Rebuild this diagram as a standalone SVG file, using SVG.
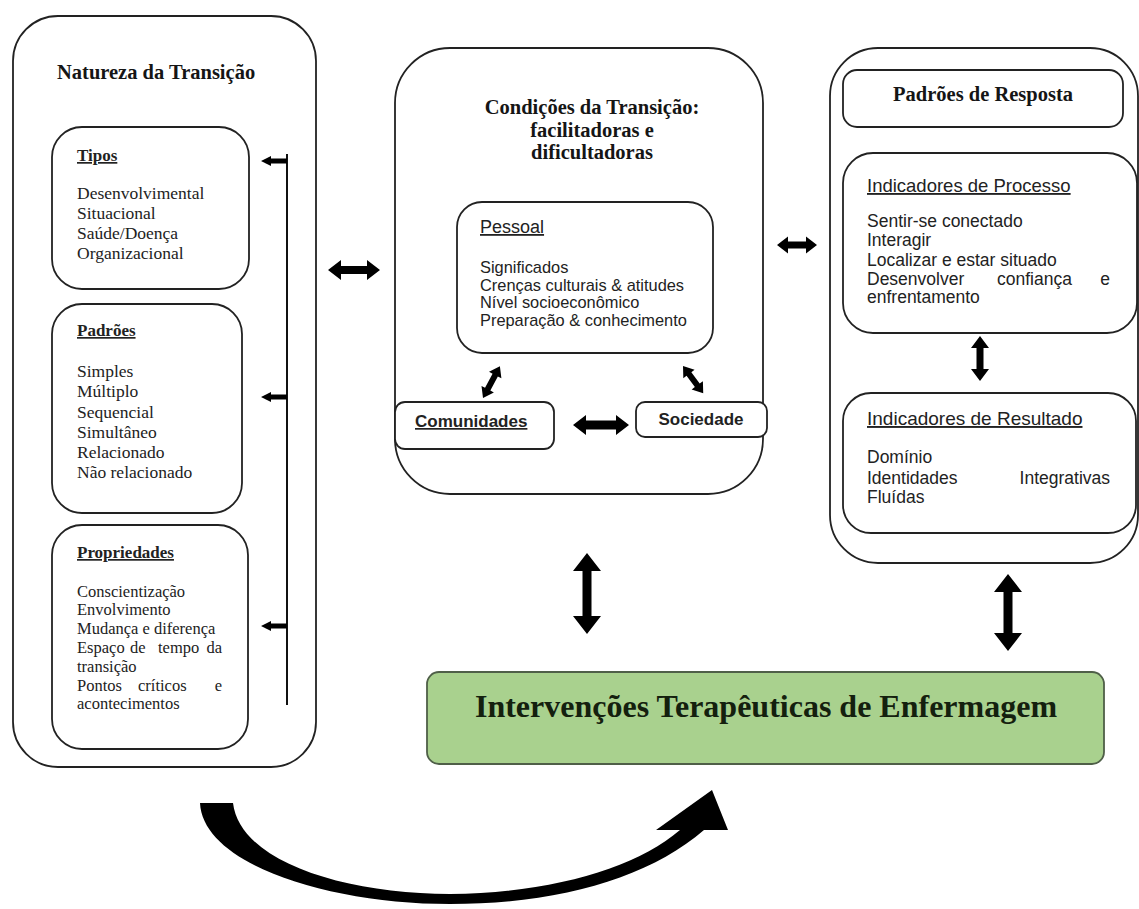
<svg xmlns="http://www.w3.org/2000/svg" width="1139" height="909" viewBox="0 0 1139 909">
<style>
.box{fill:#fff;stroke:#222;stroke-width:1.8}
.ttl{font-family:"Liberation Serif",serif;font-weight:bold;font-size:20.5px;fill:#151515}
.ser{font-family:"Liberation Serif",serif;font-size:17.5px;fill:#222}
.ser2{font-family:"Liberation Serif",serif;font-size:16.5px;fill:#222}
.serh{font-family:"Liberation Serif",serif;font-weight:bold;font-size:17px;fill:#222;text-decoration:underline}
.sans{font-family:"Liberation Sans",Arial,sans-serif;font-size:16.4px;fill:#222}
.sansr{font-family:"Liberation Sans",Arial,sans-serif;font-size:17.5px;fill:#222}
.sh{font-family:"Liberation Sans",Arial,sans-serif;font-size:18.5px;fill:#222;text-decoration:underline}
.sb{font-family:"Liberation Sans",Arial,sans-serif;font-weight:bold;font-size:17px;fill:#222}
.arr{fill:#000}
</style>
<rect width="1139" height="909" fill="#fff"/>

<g id="natureza">
<rect class="box" x="13" y="16" width="303" height="751" rx="45"/>
<text class="ttl" x="57" y="79">Natureza da Transição</text>
</g>
<g id="tipos">
<rect class="box" x="52" y="127" width="197" height="162" rx="30"/>
<text class="serh" x="77" y="161">Tipos</text>
<text class="ser" x="77" y="199">Desenvolvimental</text>
<text class="ser" x="77" y="219">Situacional</text>
<text class="ser" x="77" y="239">Saúde/Doença</text>
<text class="ser" x="77" y="259">Organizacional</text>
</g>
<g id="padroes">
<rect class="box" x="52" y="304" width="190" height="209" rx="30"/>
<text class="serh" x="77" y="336">Padrões</text>
<text class="ser" x="77" y="377">Simples</text>
<text class="ser" x="77" y="397">Múltiplo</text>
<text class="ser" x="77" y="418">Sequencial</text>
<text class="ser" x="77" y="438">Simultâneo</text>
<text class="ser" x="77" y="458">Relacionado</text>
<text class="ser" x="77" y="478">Não relacionado</text>
</g>
<g id="propriedades">
<rect class="box" x="52" y="525" width="196" height="224" rx="30"/>
<text class="serh" x="77" y="558">Propriedades</text>
<text class="ser2" x="77" y="597">Conscientização</text>
<text class="ser2" x="77" y="615">Envolvimento</text>
<text class="ser2" x="77" y="634">Mudança e diferença</text>
<text class="ser2" y="653"><tspan x="77">Espaço</tspan><tspan x="130">de</tspan><tspan x="158">tempo</tspan></text>
<text class="ser2" x="222" y="653" text-anchor="end">da</text>
<text class="ser2" x="77" y="672">transição</text>
<text class="ser2" y="691"><tspan x="77">Pontos</tspan><tspan x="138">críticos</tspan></text>
<text class="ser2" x="222" y="691" text-anchor="end">e</text>
<text class="ser2" x="77" y="709">acontecimentos</text>
</g>

<g id="condicoes">
<rect class="box" x="395" y="48" width="368" height="446" rx="55"/>
<text class="ttl" x="592" y="114" text-anchor="middle">Condições da Transição:</text>
<text class="ttl" x="592" y="137" text-anchor="middle">facilitadoras e</text>
<text class="ttl" x="592" y="159" text-anchor="middle">dificultadoras</text>
</g>
<g id="pessoal">
<rect class="box" x="457" y="202" width="256" height="151" rx="25"/>
<text class="sh" x="480" y="233" style="font-size:18px">Pessoal</text>
<text class="sans" x="480" y="273">Significados</text>
<text class="sans" x="480" y="291">Crenças culturais &amp; atitudes</text>
<text class="sans" x="480" y="308">Nível socioeconômico</text>
<text class="sans" x="480" y="326">Preparação &amp; conhecimento</text>
</g>
<g id="comunidades">
<rect class="box" x="395" y="402" width="159" height="47" rx="10"/>
<text class="sb" x="415" y="427" style="text-decoration:underline">Comunidades</text>
</g>
<g id="sociedade">
<rect class="box" x="636" y="402" width="131" height="35" rx="9"/>
<text class="sb" x="701" y="425" text-anchor="middle">Sociedade</text>
</g>

<g id="resposta">
<rect class="box" x="830" y="48" width="308" height="515" rx="48"/>
</g>
<g id="padroes-resposta">
<rect class="box" x="843" y="70" width="280" height="57" rx="14"/>
<text class="ttl" x="983" y="101" text-anchor="middle">Padrões de Resposta</text>
</g>
<g id="processo">
<rect class="box" x="843" y="153" width="294" height="180" rx="30"/>
<text class="sh" x="867" y="192">Indicadores de Processo</text>
<text class="sansr" x="867" y="227">Sentir-se conectado</text>
<text class="sansr" x="867" y="246">Interagir</text>
<text class="sansr" x="867" y="266">Localizar e estar situado</text>
<text class="sansr" x="867" y="285">Desenvolver</text>
<text class="sansr" x="997" y="285">confiança</text>
<text class="sansr" x="1110" y="285" text-anchor="end">e</text>
<text class="sansr" x="867" y="303">enfrentamento</text>
</g>
<g id="resultado">
<rect class="box" x="843" y="393" width="293" height="140" rx="28"/>
<text class="sh" x="867" y="425" style="font-size:19px">Indicadores de Resultado</text>
<text class="sansr" x="867" y="463">Domínio</text>
<text class="sansr" x="867" y="484">Identidades</text>
<text class="sansr" x="1110" y="484" text-anchor="end">Integrativas</text>
<text class="sansr" x="867" y="503">Fluídas</text>
</g>

<g id="intervencoes">
<rect x="427" y="672" width="677" height="92" rx="12" fill="#a9d18e" stroke="#4f5f48" stroke-width="1.8"/>
<text x="766" y="717" text-anchor="middle" style="font-family:'Liberation Serif',serif;font-weight:bold;font-size:32px;fill:#14200e">Intervenções Terapêuticas de Enfermagem</text>
</g>

<g id="connectors">
<line x1="287" y1="154" x2="287" y2="705" stroke="#111" stroke-width="2"/>
<polygon class="arr" points="287,158.5 271,158.5 271,156 261,161 271,166 271,163.5 287,163.5"/>
<polygon class="arr" points="287,394.5 271,394.5 271,392 261,397 271,402 271,399.5 287,399.5"/>
<polygon class="arr" points="287,623.5 271,623.5 271,621 261,626 271,631 271,628.5 287,628.5"/>
<polygon class="arr" points="328,270 341,260 341,266 367,266 367,260 380,270 367,280 367,274 341,274 341,280"/>
<polygon class="arr" points="777,245 788,236.5 788,241.5 806,241.5 806,236.5 817,245 806,253.5 806,248.5 788,248.5 788,253.5"/>
<polygon class="arr" points="573,425 586,415 586,420.5 616,420.5 616,415 629,425 616,435 616,429.5 586,429.5 586,435"/>
<polygon class="arr" transform="translate(483,398) rotate(-62)" points="0,0 10,-7 10,-3 26,-3 26,-7 36,0 26,7 26,3 10,3 10,7"/>
<polygon class="arr" transform="translate(683,366) rotate(53.5)" points="0,0 10,-7 10,-3 24,-3 24,-7 34,0 24,7 24,3 10,3 10,7"/>
<polygon class="arr" transform="translate(980,336) rotate(90)" points="0,0 12,-9 12,-3.5 33,-3.5 33,-9 45,0 33,9 33,3.5 12,3.5 12,9"/>
<polygon class="arr" transform="translate(587,553) rotate(90)" points="0,0 18,-14 18,-4.5 63,-4.5 63,-14 81,0 63,14 63,4.5 18,4.5 18,14"/>
<polygon class="arr" transform="translate(1008,574) rotate(90)" points="0,0 18,-14 18,-4.5 59,-4.5 59,-14 77,0 59,14 59,4.5 18,4.5 18,14"/>
<path class="arr" d="M200,803 C203,865 330,904 450,904 C560,904 648,878 704,830 L728,830 L712,790 L656,830 L680,830 C636,868 552,893 450,894 C345,894 240,862 233,803 Z"/>
</g>
</svg>
